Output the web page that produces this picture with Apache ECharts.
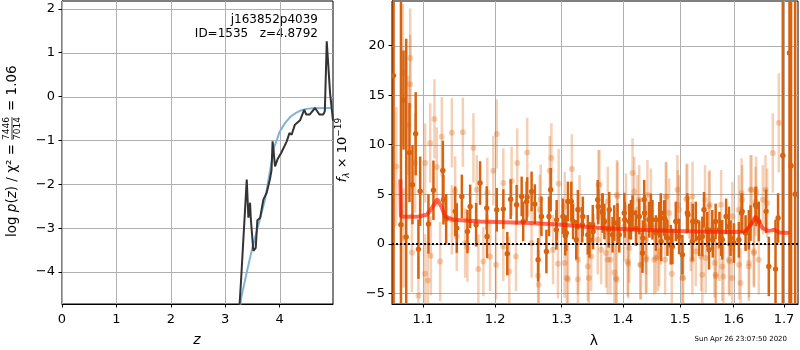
<!DOCTYPE html>
<html>
<head>
<meta charset="utf-8">
<script src="https://cdn.jsdelivr.net/npm/echarts@6/dist/echarts.min.js"></script>
<style>
html, body { margin: 0; padding: 0; background: #fff; }
#main { width: 800px; height: 350px; }
</style>
</head>
<body>
<div id="main"></div>
<script>
// left panel: log p(z) and prior
var pzCurve = [[3.24,-5.2],[3.29,-4.2],[3.315,-3.65],[3.35,-3.63],[3.395,-1.89],[3.425,-2.76],[3.456,-2.42],[3.47,-2.8],
    [3.517,-3.52],[3.56,-3.45],[3.59,-2.82],[3.64,-2.77],[3.70,-2.35],[3.76,-2.2],[3.82,-1.89],[3.85,-1.68],[3.87,-1.02],
    [3.915,-1.59],[3.96,-1.43],[4.03,-1.28],[4.13,-1.02],[4.18,-0.83],[4.22,-0.87],[4.28,-0.64],[4.375,-0.54],[4.45,-0.30],
    [4.49,-0.41],[4.55,-0.41],[4.65,-0.26],[4.73,-0.41],[4.80,-0.41],[4.83,-0.33],[4.865,1.26],[4.88,1.30],[4.926,0.08],
    [4.96,0.05],[4.98,-0.55]];
var priorCurve = [[3.26,-4.9],[3.3,-4.55],[3.4,-3.98],[3.49,-3.49],[3.61,-2.92],[3.73,-2.35],[3.85,-1.5],[3.9,-1.15],
    [3.95,-0.98],[4.0,-0.8],[4.1,-0.6],[4.2,-0.46],[4.3,-0.37],[4.4,-0.31],[4.5,-0.28],[4.6,-0.265],[4.98,-0.26]];
var zTicks = [0, 1, 2, 3, 4];
var pTicks = [-4, -3, -2, -1, 0, 1, 2];

// right panel: spectrum points [lambda, flux, err]
var darkPts = [[1.0618,16.97,40],[1.0713,1.92,30],[1.0746,14.5,5],[1.0781,0.68,20],[1.0824,9.2,5],[1.0863,5.96,4],
    [1.0905,11.1,4.2],[1.0941,-0.54,3],[1.0964,5.3,3.5],[1.1074,2.0,3],[1.1141,5.4,3],[1.1268,7.4,3],[1.1276,4.44,2.5],
    [1.1313,2.5,2.5],[1.1436,3.27,2.5],[1.1459,1.58,2.5],[1.1529,4.78,2.2],[1.1607,1.24,2.2],[1.1645,3.77,2.2],
    [1.1729,1.92,2.2],[1.1785,6.13,2.2],[1.1880,3.6,2.2],[1.1885,0.74,2.2],[1.2024,3.43,2.2],[1.2120,3.5,2],
    [1.2178,-1.0,2.2],[1.2228,4.5,2],[1.2316,3.94,2],[1.2391,4.78,2],[1.2414,2.25,2],[1.2465,4.27,2],[1.2474,4.71,2],
    [1.2540,5.28,2],[1.2589,4.0,2],[1.2639,-1.62,2.2],[1.2690,2.76,2],[1.2766,-0.78,2.2],[1.2806,2.76,2],[1.2832,5.45,2.2],
    [1.2920,1.41,2],[1.2925,2.42,2],[1.3023,2.76,1.8],[1.3060,0.81,2],[1.3076,1.08,1.8],[1.3101,4.27,2],[1.3155,4.27,2],
    [1.3183,2.25,1.8],[1.3234,0.4,2],[1.3260,3.43,2],[1.3330,1.92,1.8],[1.3339,2.76,2],[1.3419,0.9,2],[1.3446,0.4,1.8],
    [1.3500,1.92,2],[1.3505,1.24,1.8],[1.3581,4.44,2],[1.3590,3.77,1.8],[1.3653,3.27,1.8],[1.3663,3.1,2],[1.3691,2.25,1.8],
    [1.3760,1.41,1.8],[1.3771,3.43,1.8],[1.3826,0.91,1.8],[1.3854,2.09,1.8],[1.3909,2.09,2],[1.3938,0.91,1.8],
    [1.4022,3.1,2],[1.4030,2.42,1.8],[1.4107,2.25,1.8],[1.4136,2.42,2],[1.4163,3.1,1.8],[1.4221,1.58,1.8],[1.4278,2.76,1.8],
    [1.4334,-0.94,2],[1.4340,0.57,1.8],[1.4363,4.44,2],[1.4370,3.1,1.8],[1.4450,2.42,1.8],[1.4479,3.27,1.8],[1.4507,2.42,2],
    [1.4567,1.08,1.8],[1.4625,2.42,1.8],[1.4654,3.1,2],[1.4660,0.24,2],[1.4712,2.6,1.8],[1.4730,2.42,2],[1.4771,0.57,1.8],
    [1.4831,-0.1,2],[1.4860,-0.27,1.8],[1.4921,2.25,2],[1.4980,0.74,1.8],[1.5040,-1.11,2],[1.5130,3.1,2],[1.5140,2.93,1.8],
    [1.5222,0.24,2],[1.5230,2.25,1.8],[1.5284,2.25,2],[1.5345,0.57,1.8],[1.5406,0.74,2],[1.5437,3.43,1.8],[1.5498,1.41,1.8],
    [1.5530,-0.6,2],[1.5592,1.41,2],[1.5600,0.4,1.8],[1.5655,2.25,1.8],[1.5727,1.41,1.8],[1.5759,0.57,1.8],[1.5780,0.4,2],
    [1.5854,2.76,1.8],[1.5908,1.75,2],[1.5940,0.57,1.8],[1.6004,0.07,2],[1.6100,0.4,1.8],[1.6152,3.1,2],[1.6164,3.27,1.8],
    [1.6230,1.08,1.8],[1.6294,1.41,2],[1.6328,2.09,1.8],[1.6426,3.94,1.8],[1.6438,3.77,2],[1.6491,2.25,2],[1.6637,3.27,2.2],
    [1.6691,-2.29,3],[1.6827,-2.56,5],[1.6879,2.6,2.5],[1.6975,8.9,40],[1.7112,19.26,40],[1.7145,7.88,40],[1.7230,5.0,40]];
var lightPts = [[1.0653,7.8,6],[1.0738,17.2,7],[1.0746,0.57,5],[1.0807,11.95,5],[1.0833,18.75,5],[1.0833,16.1,5],
    [1.0855,-0.88,4],[1.0898,8.15,5],[1.0941,-5.25,4],[1.1030,8.15,4],[1.1030,-3.03,4],[1.1066,-3.7,4],[1.1097,10.17,4],
    [1.1106,-1.21,4],[1.1154,12.6,4],[1.1186,7.75,4],[1.1231,-1.79,4],[1.1254,10.8,4],[1.1391,11.2,3.5],[1.1391,2.42,3.5],
    [1.1436,5.32,3.5],[1.1459,0.74,3.5],[1.1543,11.25,3.5],[1.1575,0.07,3.5],[1.1607,-0.34,3.5],[1.1691,9.67,3.5],
    [1.1738,5.45,3.5],[1.1761,-2.56,3.5],[1.1832,-1.79,3.5],[1.1889,5.18,3.5],[1.1928,-1.28,3.5],[1.1975,7.37,3.5],
    [1.2014,-2.12,3.5],[1.2024,11.08,3.5],[1.2120,6.13,3.5],[1.2120,-0.27,3.5],[1.2207,-2.8,3.5],[1.2242,6.3,3.5],
    [1.2306,-1.28,3.5],[1.2325,8.15,3.5],[1.2474,9.2,3.5],[1.2540,0.07,3.5],[1.2639,-3.23,3.5],[1.2649,-4.14,3.5],
    [1.2664,3.43,3.5],[1.2679,4.5,3.5],[1.2817,7.37,3.5],[1.2843,8.66,3.5],[1.2868,-0.6,3.5],[1.2945,-2.02,3.5],
    [1.2956,6.06,3.5],[1.3049,-1.95,3.5],[1.3052,3.77,3.5],[1.3085,-3.46,3.5],[1.3101,-3.57,3.5],[1.3164,7.54,3.5],
    [1.3260,-3.57,3.5],[1.3262,-1.62,3.5],[1.3287,3.43,3.5],[1.3419,-2.29,3.5],[1.3435,-3.46,3.5],[1.3474,-1.28,3.5],
    [1.3581,0.4,3.5],[1.3593,5.96,3.5],[1.3609,5.96,3.5],[1.3637,-0.6,3.5],[1.3717,-0.94,3.5],[1.3743,-1.62,3.5],
    [1.3746,4.27,3.5],[1.3789,-1.62,3.5],[1.3854,-2.9,3.5],[1.3883,-3.46,3.5],[1.3893,-3.64,3.5],[1.3899,4.95,3.5],
    [1.3909,4.78,3.5],[1.4022,1.75,3.5],[1.4051,3.6,3.5],[1.4079,-1.79,3.5],[1.4090,-2.02,3.5],[1.4107,-0.44,3.5],
    [1.4163,7.14,3.5],[1.4192,5.28,3.5],[1.4248,3.43,3.5],[1.4278,4.44,3.5],[1.4294,-2.12,3.5],[1.4307,-2.12,3.5],
    [1.4392,-1.62,3.5],[1.4395,0.4,3.5],[1.4403,-1.45,3.5],[1.4420,4.95,3.5],[1.4479,4.1,3.5],[1.4537,-1.62,3.5],
    [1.4567,-1.45,3.5],[1.4606,-1.28,3.5],[1.4625,-0.78,3.5],[1.4654,1.41,3.5],[1.4730,-1.62,3.5],[1.4742,4.78,3.5],
    [1.4753,4.71,3.5],[1.4801,3.1,3.5],[1.4849,-3.03,3.5],[1.4950,5.45,3.5],[1.4955,3.94,3.5],[1.4980,3.43,3.5],
    [1.5040,-3.46,3.5],[1.5053,-3.46,3.5],[1.5112,4.5,3.5],[1.5130,4.61,3.5],[1.5193,0.74,3.5],[1.5222,-1.62,3.5],
    [1.5225,4.78,3.5],[1.5284,-0.78,3.5],[1.5382,-1.28,3.5],[1.5406,-3.13,3.5],[1.5456,4.44,3.5],[1.5468,-1.45,3.5],
    [1.5530,3.77,3.5],[1.5543,3.94,3.5],[1.5633,-1.95,3.5],[1.5655,-3.13,3.5],[1.5660,-3.3,3.5],[1.5727,-0.27,3.5],
    [1.5759,3.94,3.5],[1.5780,-2.29,3.5],[1.5803,-3.3,3.5],[1.5908,-1.62,3.5],[1.5921,-1.79,3.5],[1.5971,-3.46,3.5],
    [1.5975,2.76,3.5],[1.6100,3.43,3.5],[1.6105,-2.12,3.5],[1.6133,-3.97,3.5],[1.6152,5.12,3.5],[1.6164,4.44,3.5],
    [1.6294,-2.29,3.5],[1.6298,-1.95,3.5],[1.6328,5.45,3.5],[1.6348,5.45,3.5],[1.6393,-0.78,3.5],[1.6395,-0.94,3.5],
    [1.6426,4.27,3.5],[1.6438,5.28,3.5],[1.6491,-1.62,3.5],[1.6571,4.44,3.5],[1.6625,5.45,3.5],[1.6657,4.1,3.5],
    [1.6772,9.16,4],[1.6894,12.2,5]];
var modelCurve = [[1.0705,6.5],[1.0713,2.76],[1.08,2.72],[1.095,2.75],[1.1052,2.93],[1.112,3.6],[1.1194,4.5],
    [1.125,3.7],[1.1298,2.76],[1.1414,2.42],[1.1785,2.25],[1.2517,2.09],[1.3024,1.92],[1.356,1.62],[1.411,1.43],
    [1.4775,1.31],[1.529,1.24],[1.5915,1.18],[1.615,1.2],[1.6233,1.31],[1.633,1.9],[1.6429,2.76],[1.6565,1.59],
    [1.6665,1.31],[1.675,1.35],[1.680,1.41],[1.690,1.14],[1.711,1.08]];
var lamTicks = [1.1, 1.2, 1.3, 1.4, 1.5, 1.6, 1.7];
var fluxTicks = [-5, 0, 5, 10, 15, 20];

var FONT = 'DejaVu Sans';
var ORANGE = '#d9620e';
var LAM_MIN = 1.0598, LAM_MAX = 1.7289;

function minus(v) {
    return String(v).replace('-', '\u2212');
}

// wavelength axis is logarithmic, use log10 as the value
function toLog(pts) {
    return pts.map(function (p) {
        return [Math.log10(p[0])].concat(p.slice(1));
    });
}

function errRender(opacity, barW, r) {
    return function (params, api) {
        var x = api.value(0), y = api.value(1), e = api.value(2);
        var top = api.coord([x, y + e]);
        var bot = api.coord([x, y - e]);
        var c = api.coord([x, y]);
        return {
            type: 'group',
            children: [
                {type: 'line', shape: {x1: top[0], y1: top[1], x2: bot[0], y2: bot[1]},
                    style: {stroke: ORANGE, lineWidth: barW, opacity: opacity}},
                {type: 'circle', shape: {cx: c[0], cy: c[1], r: r},
                    style: {fill: ORANGE, opacity: opacity}}
            ]
        };
    };
}

function valueAxis(idx, min, max, ticks, fmt, margin) {
    return {
        type: 'value', gridIndex: idx, min: min, max: max,
        axisLine: {show: true, onZero: false, lineStyle: {color: '#000', width: 1}},
        axisTick: {show: true, length: 3.5, customValues: ticks, lineStyle: {color: '#000'}},
        axisLabel: {customValues: ticks, formatter: fmt, margin: margin, color: '#000', fontFamily: FONT, fontSize: 13},
        splitLine: {show: false}
    };
}

// grid lines: a custom series, one item per tick; dim 2 says vertical (0) or horizontal (1)
function gridSeries(idx, xs, ys, xMid, yMid) {
    var items = xs.map(function (v) { return [v, yMid, 0]; })
        .concat(ys.map(function (v) { return [xMid, v, 1]; }));
    return {
        type: 'custom', xAxisIndex: idx, yAxisIndex: idx, data: items, silent: true, z: 1,
        encode: {x: 0, y: 1},
        renderItem: function (params, api) {
            var cs = params.coordSys;
            var c = api.coord([api.value(0), api.value(1)]);
            var px = Math.round(c[0]) + 0.5, py = Math.round(c[1]) + 0.5;
            var shape = api.value(2) === 0
                ? {x1: px, y1: cs.y, x2: px, y2: cs.y + cs.height}
                : {x1: cs.x, y1: py, x2: cs.x + cs.width, y2: py};
            return {type: 'line', shape: shape, style: {stroke: '#b0b0b0', lineWidth: 1}};
        }
    };
}

var chart = echarts.init(document.getElementById('main'));
var logLamTicks = lamTicks.map(function (v) { return Math.log10(v); });

chart.setOption({
    animation: false,
    grid: [
        {left: 62, top: 1, width: 271, height: 303, show: true, borderColor: '#000', borderWidth: 1},
        {left: 392, top: 1, width: 406, height: 303, show: true, borderColor: '#000', borderWidth: 1}
    ],
    xAxis: [
        valueAxis(0, 0, 4.98, zTicks, minus, 9),
        valueAxis(1, Math.log10(LAM_MIN), Math.log10(LAM_MAX), logLamTicks, function (v) {
            return Math.pow(10, v).toFixed(1);
        }, 9)
    ],
    yAxis: [
        valueAxis(0, -4.73, 2.18, pTicks, minus, 7),
        valueAxis(1, -6.08, 24.5, fluxTicks, minus, 7)
    ],
    series: [
        gridSeries(0, zTicks, pTicks, 2, 0),
        gridSeries(1, logLamTicks, fluxTicks, Math.log10(1.3), 0),
        {type: 'line', xAxisIndex: 0, yAxisIndex: 0, data: priorCurve, showSymbol: false,
            lineStyle: {color: '#7fb3da', width: 2}, z: 2},
        {type: 'line', xAxisIndex: 0, yAxisIndex: 0, data: pzCurve, showSymbol: false,
            lineStyle: {color: '#333333', width: 2}, z: 3},
        {type: 'custom', xAxisIndex: 1, yAxisIndex: 1, data: toLog(lightPts), clip: true,
            encode: {x: 0, y: 1}, renderItem: errRender(0.3, 2.5, 3), z: 2},
        {type: 'custom', xAxisIndex: 1, yAxisIndex: 1, data: toLog(darkPts), clip: true,
            encode: {x: 0, y: 1}, renderItem: errRender(1, 2.5, 2.7), z: 3},
        {type: 'line', xAxisIndex: 1, yAxisIndex: 1, data: toLog(modelCurve), showSymbol: false,
            lineStyle: {color: '#ff1a00', width: 4, opacity: 0.65}, z: 4,
            markLine: {silent: true, symbol: 'none', label: {show: false},
                lineStyle: {type: 'dotted', color: '#000', width: 2}, data: [{yAxis: 0}]}}
    ],
    graphic: [
        {type: 'text', x: 318, y: 20, style: {text: 'j163852p4039', font: '12px ' + FONT, fill: '#000',
            textAlign: 'right', textVerticalAlign: 'middle'}},
        {type: 'text', x: 318, y: 34, style: {text: 'ID=1535   z=4.8792', font: '12px ' + FONT, fill: '#000',
            textAlign: 'right', textVerticalAlign: 'middle'}},
        {type: 'text', x: 197, y: 340, style: {text: 'z', font: 'italic 14px ' + FONT, fill: '#000',
            textAlign: 'center', textVerticalAlign: 'middle'}},
        {type: 'text', x: 594, y: 341, style: {text: '\u03bb', font: '14px ' + FONT, fill: '#000',
            textAlign: 'center', textVerticalAlign: 'middle'}},
        {type: 'text', x: 787, y: 339, style: {text: 'Sun Apr 26 23:07:50 2020', font: '7px ' + FONT, fill: '#000',
            textAlign: 'right', textVerticalAlign: 'middle'}},
        // left y label with the chi2 fraction
        {type: 'group', x: 12, y: 129, rotation: Math.PI / 2, children: [
            {type: 'text', x: -15, y: 0, style: {
                text: '{n|log }{i|p}{n|(}{i|z}{n|) / \u03c7\u00b2 =}',
                rich: {
                    n: {fontFamily: FONT, fontSize: 13.5, fill: '#000'},
                    i: {fontFamily: FONT, fontSize: 13.5, fontStyle: 'italic', fill: '#000'}
                },
                textAlign: 'right', textVerticalAlign: 'middle'}},
            {type: 'text', x: 0.5, y: -1, style: {text: '7446', font: '9px ' + FONT, fill: '#000',
                textAlign: 'center', textVerticalAlign: 'bottom'}},
            {type: 'line', shape: {x1: -11, y1: 0, x2: 12, y2: 0}, style: {stroke: '#000', lineWidth: 0.8}},
            {type: 'text', x: 0.5, y: 1, style: {text: '7014', font: '9px ' + FONT, fill: '#000',
                textAlign: 'center', textVerticalAlign: 'top'}},
            {type: 'text', x: 18, y: 0, style: {text: '= 1.06', font: '13.5px ' + FONT, fill: '#000',
                textAlign: 'left', textVerticalAlign: 'middle'}}
        ]},
        // right y label
        {type: 'group', x: 343, y: 150, rotation: Math.PI / 2, children: [
            {type: 'text', x: 0, y: 0, style: {
                text: '{i|f}{sub|\u03bb}{n| \u00d7 10}{sup|\u221219}',
                rich: {
                    n: {fontFamily: FONT, fontSize: 13, fill: '#000'},
                    i: {fontFamily: FONT, fontSize: 13, fontStyle: 'italic', fill: '#000'},
                    sub: {fontFamily: FONT, fontSize: 9, fontStyle: 'italic', fill: '#000', padding: [8, 0, 0, 0]},
                    sup: {fontFamily: FONT, fontSize: 9, fill: '#000', padding: [0, 0, 9, 0]}
                },
                textAlign: 'center', textVerticalAlign: 'middle'}}
        ]}
    ]
});
</script>
</body>
</html>
